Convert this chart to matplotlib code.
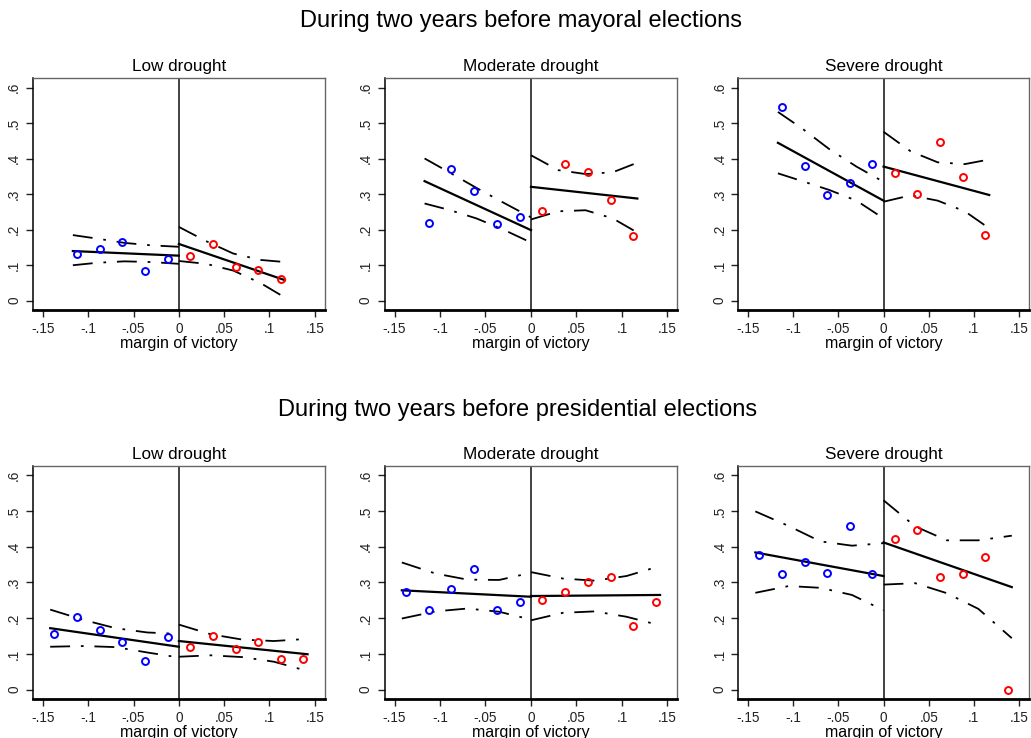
import matplotlib
matplotlib.use("Agg")
import matplotlib.pyplot as plt

plt.rcParams['font.family'] = ['Liberation Sans', 'DejaVu Sans']

# bin centres (margin of victory)
bins_top_left = [-0.1125, -0.0875, -0.0625, -0.0375, -0.0125]
bins_top_right = [0.0125, 0.0375, 0.0625, 0.0875, 0.1125]
bins_bot_left = [-0.1375, -0.1125, -0.0875, -0.0625, -0.0375, -0.0125]
bins_bot_right = [0.0125, 0.0375, 0.0625, 0.0875, 0.1125, 0.1375]

# x grid where fit / confidence bands were read
grid_top_left = [-0.117, -0.09, -0.06, -0.03, 0.0]
grid_top_right = [0.0, 0.03, 0.06, 0.09, 0.117]
grid_bot_left = [-0.142, -0.105, -0.07, -0.035, 0.0]
grid_bot_right = [0.0, 0.035, 0.07, 0.105, 0.142]

# ---- mayoral elections ----
may_low_blue = [0.131, 0.146, 0.166, 0.084, 0.119]
may_low_red = [0.127, 0.159, 0.095, 0.088, 0.062]
may_low_fit_l = [0.140, 0.127]
may_low_fit_r = [0.160, 0.058]
may_low_up_l = [0.185, 0.175, 0.163, 0.156, 0.152]
may_low_lo_l = [0.100, 0.107, 0.111, 0.109, 0.104]
may_low_up_r = [0.208, 0.168, 0.133, 0.115, 0.109]
may_low_lo_r = [0.112, 0.104, 0.085, 0.050, 0.009]

may_mod_blue = [0.220, 0.370, 0.310, 0.215, 0.235]
may_mod_red = [0.254, 0.384, 0.363, 0.284, 0.183]
may_mod_fit_l = [0.337, 0.199]
may_mod_fit_r = [0.321, 0.288]
may_mod_up_l = [0.401, 0.362, 0.318, 0.276, 0.235]
may_mod_lo_l = [0.274, 0.256, 0.232, 0.200, 0.164]
may_mod_up_r = [0.410, 0.368, 0.357, 0.362, 0.389]
may_mod_lo_r = [0.229, 0.252, 0.255, 0.232, 0.192]

may_sev_blue = [0.545, 0.381, 0.299, 0.332, 0.386]
may_sev_red = [0.359, 0.302, 0.447, 0.349, 0.186]
may_sev_fit_l = [0.445, 0.282]
may_sev_fit_r = [0.378, 0.298]
may_sev_up_l = [0.532, 0.485, 0.427, 0.378, 0.335]
may_sev_lo_l = [0.359, 0.337, 0.312, 0.282, 0.232]
may_sev_up_r = [0.476, 0.421, 0.390, 0.385, 0.398]
may_sev_lo_r = [0.279, 0.297, 0.282, 0.252, 0.204]

# ---- presidential elections ----
pre_low_blue = [0.156, 0.203, 0.167, 0.133, 0.081, 0.147]
pre_low_red = [0.119, 0.151, 0.115, 0.134, 0.086, 0.087]
pre_low_fit_l = [0.172, 0.120]
pre_low_fit_r = [0.136, 0.099]
pre_low_up_l = [0.224, 0.195, 0.172, 0.160, 0.156]
pre_low_lo_l = [0.120, 0.122, 0.119, 0.104, 0.090]
pre_low_up_r = [0.182, 0.155, 0.140, 0.136, 0.142]
pre_low_lo_r = [0.092, 0.096, 0.091, 0.078, 0.052]

pre_mod_blue = [0.274, 0.222, 0.281, 0.337, 0.224, 0.246]
pre_mod_red = [0.251, 0.274, 0.300, 0.316, 0.178, 0.244]
pre_mod_fit_l = [0.278, 0.260]
pre_mod_fit_r = [0.262, 0.265]
pre_mod_up_l = [0.356, 0.325, 0.308, 0.307, 0.327]
pre_mod_lo_l = [0.199, 0.219, 0.227, 0.218, 0.196]
pre_mod_up_r = [0.329, 0.311, 0.305, 0.318, 0.346]
pre_mod_lo_r = [0.194, 0.215, 0.219, 0.204, 0.180]

pre_sev_blue = [0.376, 0.325, 0.356, 0.327, 0.459, 0.325]
pre_sev_red = [0.421, 0.447, 0.315, 0.323, 0.371, 0.000]
pre_sev_fit_l = [0.384, 0.318]
pre_sev_fit_r = [0.412, 0.287]
pre_sev_up_l = [0.499, 0.458, 0.415, 0.403, 0.410]
pre_sev_lo_l = [0.271, 0.290, 0.285, 0.265, 0.222]
pre_sev_up_r = [0.530, 0.457, 0.418, 0.418, 0.431]
pre_sev_lo_r = [0.294, 0.298, 0.270, 0.226, 0.144]

titles = ['Low drought', 'Moderate drought', 'Severe drought']
xticks = [-0.15, -0.1, -0.05, 0, 0.05, 0.1, 0.15]
xtick_labels = ['-.15', '-.1', '-.05', '0', '.05', '.1', '.15']
yticks = [0, 0.1, 0.2, 0.3, 0.4, 0.5, 0.6]
ytick_labels = ['0', '.1', '.2', '.3', '.4', '.5', '.6']

ci_style = (0, (11, 6, 1.5, 6))


def draw_panel(ax, title, bl, br, gl, gr, blue, red, fit_l, fit_r, up_l, lo_l, up_r, lo_r):
    ax.axvline(0, color='#333333', lw=1.3, zorder=1)
    ax.plot([gl[0], gl[-1]], fit_l, color='black', lw=1.6)
    ax.plot([gr[0], gr[-1]], fit_r, color='black', lw=1.6)
    for xs, ys in [(gl, up_l), (gl, lo_l), (gr, up_r), (gr, lo_r)]:
        ax.plot(xs, ys, color='black', lw=1.3, linestyle=ci_style)
    ax.plot(bl, blue, 'o', mfc='none', mec='blue', ms=5, mew=1.4)
    ax.plot(br, red, 'o', mfc='none', mec='red', ms=5, mew=1.4)

    ax.set_xlim(-0.161, 0.161)
    ax.set_ylim(-0.026, 0.627)
    ax.set_xticks(xticks)
    ax.set_xticklabels(xtick_labels)
    ax.set_yticks(yticks)
    ax.set_yticklabels(ytick_labels, rotation=90, va='center')
    ax.tick_params(direction='out', length=5, width=1, labelsize=9.8, colors='#222222')
    ax.set_xlabel('margin of victory', fontsize=11.5, labelpad=0)
    ax.set_title(title, fontsize=12.3, pad=5)
    ax.spines['left'].set_linewidth(1.1)
    ax.spines['bottom'].set_linewidth(2)
    for s in ['top', 'right']:
        ax.spines[s].set_color('#666666')
        ax.spines[s].set_linewidth(1)


fig = plt.figure(figsize=(10.31, 7.38), dpi=100)

lefts = [0.032, 0.373, 0.716]
widths = [0.283, 0.284, 0.282]

top_panels = [
    (may_low_blue, may_low_red, may_low_fit_l, may_low_fit_r, may_low_up_l, may_low_lo_l, may_low_up_r, may_low_lo_r),
    (may_mod_blue, may_mod_red, may_mod_fit_l, may_mod_fit_r, may_mod_up_l, may_mod_lo_l, may_mod_up_r, may_mod_lo_r),
    (may_sev_blue, may_sev_red, may_sev_fit_l, may_sev_fit_r, may_sev_up_l, may_sev_lo_l, may_sev_up_r, may_sev_lo_r),
]
bot_panels = [
    (pre_low_blue, pre_low_red, pre_low_fit_l, pre_low_fit_r, pre_low_up_l, pre_low_lo_l, pre_low_up_r, pre_low_lo_r),
    (pre_mod_blue, pre_mod_red, pre_mod_fit_l, pre_mod_fit_r, pre_mod_up_l, pre_mod_lo_l, pre_mod_up_r, pre_mod_lo_r),
    (pre_sev_blue, pre_sev_red, pre_sev_fit_l, pre_sev_fit_r, pre_sev_up_l, pre_sev_lo_l, pre_sev_up_r, pre_sev_lo_r),
]

for i in range(3):
    ax = fig.add_axes([lefts[i], 0.580, widths[i], 0.314])
    draw_panel(ax, titles[i], bins_top_left, bins_top_right, grid_top_left, grid_top_right, *top_panels[i])
    ax = fig.add_axes([lefts[i], 0.053, widths[i], 0.316])
    draw_panel(ax, titles[i], bins_bot_left, bins_bot_right, grid_bot_left, grid_bot_right, *bot_panels[i])

fig.text(0.505, 0.972, 'During two years before mayoral elections', ha='center', va='center', fontsize=17)
fig.text(0.502, 0.444, 'During two years before presidential elections', ha='center', va='center', fontsize=17)

plt.savefig('out.png', dpi=100)
